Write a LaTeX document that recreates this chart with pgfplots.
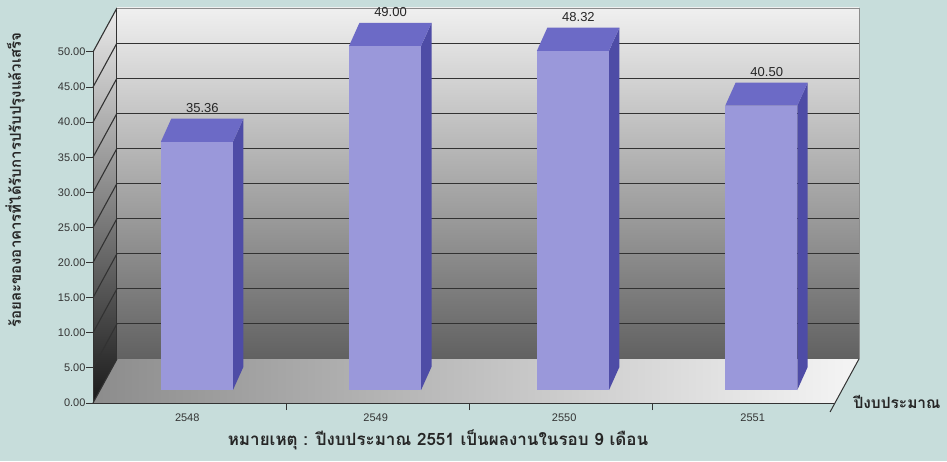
\documentclass[border=0pt]{standalone}
\usepackage{pgfplots}
\pgfplotsset{compat=1.18}
\usepackage{pgfplotstable}
\usepackage{fontspec}
\setmainfont{Liberation Sans}
\newfontfamily\thaifont[Script=Thai]{Loma}

\definecolor{bgc}{RGB}{199,221,219}
\definecolor{barfront}{RGB}{154,152,218}
\definecolor{bartop}{RGB}{108,106,198}
\definecolor{barside}{RGB}{78,76,166}
\definecolor{gridc}{RGB}{50,50,50}

% budget year, bar position (category index, as drawn), value
\pgfplotstableread{
pos    val
0.013  35.36
1.041  49.00
2.068  48.32
3.097  40.50
}\bardata

% depth of the box and of the bars, in axis units
\def\ddx{0.131}
\def\ddy{6.27}
\def\bhw{0.197}
\def\bdx{0.057}
\def\bdy{3.3}
\def\bz{1.85}

\begin{document}
\begin{tikzpicture}
\useasboundingbox (0,0) rectangle (947pt,461pt);
\fill[bgc] (0,0) rectangle (947pt,461pt);
\begin{axis}[
    at={(93pt,58pt)}, anchor=south west,
    scale only axis, width=742pt, height=351pt,
    xmin=-0.555, xmax=3.5, ymin=0, ymax=50,
    clip=false,
    axis lines*=left,
    axis line style={black!80, line width=1pt},
    axis on top,
    tick align=outside,
    major tick length=7pt,
    tick style={black!80, line width=1pt},
    ytick={0,5,...,50},
    /pgf/number format/assume math mode=true,
    yticklabel style={/pgf/number format/.cd, fixed, fixed zerofill, precision=2, /tikz/.cd,
        font=\fontsize{11}{13}\selectfont, text=black!80, xshift=3pt},
    xtick={0.5,1.5,2.5},
    xticklabels={},
    extra x ticks={-0.04,0.99,2.02,3.05},
    extra x tick labels={2548,2549,2550,2551},
    extra x tick style={major tick length=0pt,
        tick label style={font=\fontsize{11}{13}\selectfont, text=black!80, yshift=-7pt}},
    xlabel={หมายเหตุ : ปีงบประมาณ 2551 เป็นผลงานในรอบ 9 เดือน},
    xlabel style={font=\thaifont\bfseries\fontsize{17}{19}\selectfont, text=black!85,
        at={(axis description cs:0.465,0)}, anchor=center, yshift=-37pt},
    ylabel={ร้อยละของอาคารที่ได้รับการปรับปรุงแล้วเสร็จ},
    ylabel style={font=\thaifont\bfseries\fontsize{15}{17}\selectfont, text=black!85,
        at={(axis description cs:-0.105,0.635)}, anchor=center},
]
% floor, back wall, side wall
\addplot[draw=none, left color=black!45, right color=white!96!black]
    coordinates {(-0.555,0) (3.5,0) (3.631,6.27) (-0.424,6.27)} -- cycle;
\addplot[draw=none, top color=white!94!black, bottom color=black!62]
    coordinates {(-0.424,6.27) (3.631,6.27) (3.631,56.27) (-0.424,56.27)} -- cycle;
\addplot[draw=none, top color=black!8, bottom color=black!90]
    coordinates {(-0.555,0) (-0.424,6.27) (-0.424,56.27) (-0.555,50)} -- cycle;

% grid lines on the walls
\pgfplotsforeachungrouped \k in {5,10,...,45}{%
    \pgfmathsetmacro\yy{\k+\ddy}
    \edef\temp{\noexpand\addplot[gridc, line width=1.1pt] coordinates {(-0.424,\yy) (3.631,\yy)};}
    \temp
}
\pgfplotsforeachungrouped \k in {0,5,...,50}{%
    \pgfmathsetmacro\yy{\k+\ddy}
    \edef\temp{\noexpand\addplot[gridc, line width=1.1pt] coordinates {(-0.555,\k) (-0.424,\yy)};}
    \temp
}
\addplot[gridc, line width=1pt] coordinates {(-0.424,6.27) (-0.424,56.27)};
\addplot[black!45, line width=0.8pt] coordinates {(-0.424,56.27) (3.631,56.27) (3.631,6.27)};
\addplot[gridc, line width=1pt] coordinates {(3.473,-1.28) (3.631,6.27)};

% bars: side, top and front faces
\pgfplotsforeachungrouped \i in {0,1,2,3}{%
    \pgfplotstablegetelem{\i}{pos}\of\bardata \let\bp\pgfplotsretval
    \pgfplotstablegetelem{\i}{val}\of\bardata \let\bv\pgfplotsretval
    \pgfmathsetmacro\xa{\bp-\bhw}
    \pgfmathsetmacro\xb{\bp+\bhw}
    \pgfmathsetmacro\xc{\bp+\bhw+\bdx}
    \pgfmathsetmacro\xd{\bp-\bhw+\bdx}
    \pgfmathsetmacro\ya{\bz}
    \pgfmathsetmacro\yb{\bz+\bv}
    \pgfmathsetmacro\yc{\bz+\bv+\bdy}
    \pgfmathsetmacro\yd{\bz+\bdy}
    \edef\temp{%
        \noexpand\addplot[draw=none, fill=barside] coordinates {(\xb,\ya) (\xc,\yd) (\xc,\yc) (\xb,\yb)} -- cycle;
        \noexpand\addplot[draw=none, fill=bartop] coordinates {(\xa,\yb) (\xb,\yb) (\xc,\yc) (\xd,\yc)} -- cycle;
        \noexpand\addplot[draw=none, fill=barfront] coordinates {(\xa,\ya) (\xb,\ya) (\xb,\yb) (\xa,\yb)} -- cycle;
    }%
    \temp
}

% value labels
\addplot[draw=none, mark=none, point meta=\thisrow{val},
    nodes near coords={\pgfmathprintnumber[fixed, fixed zerofill, precision=2]{\pgfplotspointmeta}},
    nodes near coords style={anchor=south, yshift=6pt, inner sep=0pt,
        font=\fontsize{13}{15}\selectfont, text=black!85}]
    table[x expr=\thisrow{pos}+0.03, y expr=\thisrow{val}+\bz+\bdy] {\bardata};

\node[anchor=west, font=\thaifont\bfseries\fontsize{15.5}{17}\selectfont, text=black!85]
    at (axis cs:3.582,0.14) {ปีงบประมาณ};
\end{axis}
\end{tikzpicture}
\end{document}
